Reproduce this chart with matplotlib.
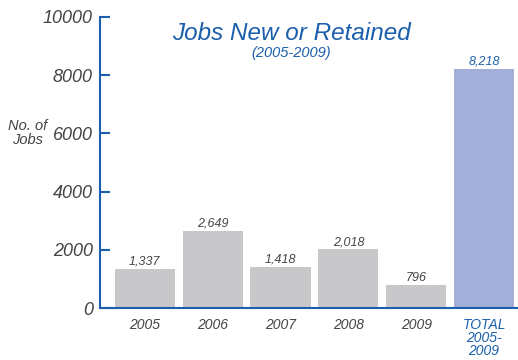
import matplotlib.pyplot as plt

plt.rcParams['font.family'] = ['Liberation Sans', 'DejaVu Sans']
plt.rcParams['font.style'] = 'italic'

# jobs created or retained per year
years = ["2005", "2006", "2007", "2008", "2009"]
jobs = [1337, 2649, 1418, 2018, 796]
total_label = "TOTAL\n2005-\n2009"
total_jobs = 8218
y_ticks = [0, 2000, 4000, 6000, 8000, 10000]

blue = "#1b5fac"
grey_bar = "#c8c8ca"
total_bar = "#a3afd8"
text_grey = "#444444"

fig = plt.figure(figsize=(5.18, 3.6), dpi=100)
ax = fig.add_axes([0.193, 0.1436, 0.807, 0.81])

labels = years + [total_label]
values = jobs + [total_jobs]
colors = [grey_bar] * len(years) + [total_bar]
xs = list(range(len(labels)))

bars = ax.bar(xs, values, width=0.885, color=colors, zorder=2)

for i, (b, v) in enumerate(zip(bars, values)):
    col = blue if i == len(values) - 1 else text_grey
    ax.text(b.get_x() + b.get_width() / 2, v + 50, f"{v:,}",
            ha='center', va='bottom', fontsize=9, color=col)

ax.set_xlim(-0.66, 5.5)
ax.set_ylim(0, 10000)
ax.set_yticks(y_ticks)
ax.set_yticklabels([str(t) for t in y_ticks], fontsize=13, color=text_grey)
ax.set_xticks(xs)
ax.set_xticklabels(labels, fontsize=10, color=text_grey, va='top', linespacing=0.92)
ax.get_xticklabels()[-1].set_color(blue)

ax.tick_params(axis='y', direction='in', length=7, width=1.5, color=blue, pad=5)
ax.tick_params(axis='x', length=0, pad=7)

for side in ['top', 'right']:
    ax.spines[side].set_visible(False)
for side in ['left', 'bottom']:
    ax.spines[side].set_color(blue)
    ax.spines[side].set_linewidth(1.5)

fig.text(0.053, 0.63, "No. of\nJobs", ha='center', va='center',
         fontsize=10.5, color=text_grey, linespacing=1.05)
fig.text(0.562, 0.908, "Jobs New or Retained", ha='center', va='center',
         fontsize=17.5, color=blue)
fig.text(0.562, 0.852, "(2005-2009)", ha='center', va='center',
         fontsize=10.5, color=blue)

fig.savefig("out.png", dpi=100)
